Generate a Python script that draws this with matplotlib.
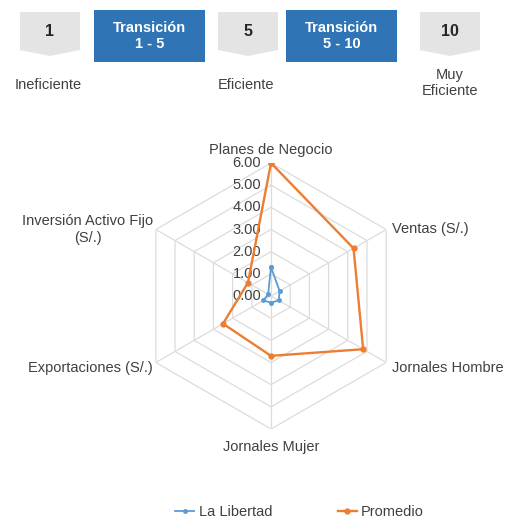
import numpy as np
import matplotlib
matplotlib.use('Agg')
import matplotlib.pyplot as plt
from matplotlib.patches import Polygon, Rectangle

plt.rcParams['font.family'] = ['Liberation Sans', 'DejaVu Sans']

# datos
categorias = ['Planes de Negocio', 'Ventas (S/.)', 'Jornales Hombre', 'Jornales Mujer',
              'Exportaciones (S/.)', 'Inversión Activo Fijo\n(S/.)']
la_libertad = [1.3, 0.45, 0.4, 0.3, 0.4, 0.15]
promedio = [6.0, 4.3, 4.8, 2.7, 2.5, 1.2]
niveles = [0, 1, 2, 3, 4, 5, 6]
escala_num = ['1', '5', '10']
escala_txt = ['Ineficiente', 'Eficiente', 'Muy\nEficiente']
transicion = ['Transición\n1 - 5', 'Transición\n5 - 10']

W, H = 512, 519
fig = plt.figure(figsize=(W / 100, H / 100), dpi=100)

# barra superior de escala (coordenadas en pixeles)
top = fig.add_axes([0, 0, 1, 1])
top.set_xlim(0, W)
top.set_ylim(H, 0)
top.axis('off')

gris_x = [20, 218, 420]
for x0, num, txt in zip(gris_x, escala_num, escala_txt):
    w = 60
    pts = [(x0, 12), (x0 + w, 12), (x0 + w, 50), (x0 + w / 2, 56), (x0, 50)]
    top.add_patch(Polygon(pts, closed=True, facecolor='#e4e4e4', edgecolor='none'))
    top.text(x0 + w / 2, 31, num, ha='center', va='center', fontsize=11.5,
             fontweight='bold', color='#262626')
    top.text(x0 + w / 2 + (0 if '\n' in txt else -2), 85 if '\n' not in txt else 83, txt,
             ha='center', va='center', fontsize=10.5, color='#404040', linespacing=1.1)

azul_x = [94, 286]
for x0, txt in zip(azul_x, transicion):
    top.add_patch(Rectangle((x0, 10), 111, 52, facecolor='#2f75b5', edgecolor='none'))
    top.text(x0 + 55.5, 36, txt, ha='center', va='center', fontsize=10.5,
             fontweight='bold', color='white', linespacing=1.1)

# grafico radial
cx, cy, R = 271, 296, 133
ax = fig.add_axes([(cx - R) / W, (H - cy - R) / H, 2 * R / W, 2 * R / H],
                  projection='polar')
ax.set_theta_zero_location('N')
ax.set_theta_direction(-1)
ax.set_ylim(0, 6)
ax.grid(False)
ax.spines['polar'].set_visible(False)
ax.set_xticks([])
ax.set_yticks([])
ax.patch.set_alpha(0)

n = len(categorias)
ang = np.linspace(0, 2 * np.pi, n, endpoint=False)
ang_c = np.append(ang, ang[0])

for nv in niveles[1:]:
    ax.plot(ang_c, [nv] * (n + 1), color='#dcdcdc', lw=0.9, zorder=1)
for a in ang:
    ax.plot([a, a], [0, 6], color='#dcdcdc', lw=0.9, zorder=1)

for nv in niveles:
    ax.annotate('%.2f' % nv, xy=(0, nv), xytext=(-7, 0), textcoords='offset points',
                ha='right', va='center', fontsize=10.5, color='#404040', zorder=2)

ax.plot(ang_c, la_libertad + la_libertad[:1], color='#5b9bd5', lw=1.3,
        marker='o', ms=2.5, label='La Libertad', zorder=3)
ax.plot(ang_c, promedio + promedio[:1], color='#ed7d31', lw=1.7,
        marker='o', ms=3.5, label='Promedio', zorder=3)

# etiquetas de categorias
pos = [(0, 4, 'center', 'bottom'), (4, 0, 'left', 'center'), (4, -4, 'left', 'center'),
       (0, -8, 'center', 'top'), (-2, -4, 'right', 'center'), (-2, 0, 'right', 'center')]
for a, cat, (dx, dy, ha, va) in zip(ang, categorias, pos):
    ax.annotate(cat, xy=(a, 6), xytext=(dx, dy), textcoords='offset points',
                ha=ha, va=va, fontsize=10.5, color='#404040', linespacing=1.3,
                multialignment='center', annotation_clip=False)

fig.legend(loc='lower center', bbox_to_anchor=(0.585, -0.026), ncol=2, frameon=False,
           fontsize=10.5, columnspacing=4.5, handlelength=1.3, handletextpad=0.3,
           labelcolor='#404040')

fig.savefig('out.png', dpi=100)
